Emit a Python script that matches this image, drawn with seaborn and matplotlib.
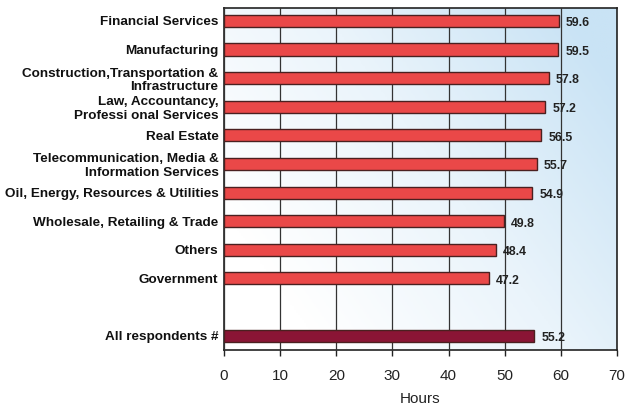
import numpy as np
import pandas as pd
import matplotlib
matplotlib.use("Agg")
import matplotlib.pyplot as plt
from matplotlib.colors import LinearSegmentedColormap
import seaborn as sns

categories = [
    "Financial Services",
    "Manufacturing",
    "Construction,Transportation &\nInfrastructure",
    "Law, Accountancy,\nProfessi onal Services",
    "Real Estate",
    "Telecommunication, Media &\nInformation Services",
    "Oil, Energy, Resources & Utilities",
    "Wholesale, Retailing & Trade",
    "Others",
    "Government",
    "All respondents #",
]
hours = [59.6, 59.5, 57.8, 57.2, 56.5, 55.7, 54.9, 49.8, 48.4, 47.2, 55.2]
is_total = [False] * 10 + [True]

df = pd.DataFrame({"sector": categories, "hours": hours, "total": is_total})
order = categories[:10] + [" "] + categories[10:]

sns.set_theme(style="white")
plt.rcParams["font.family"] = ["Liberation Sans", "DejaVu Sans"]

fig = plt.figure(figsize=(6.26, 4.05), dpi=100)
ax = fig.add_axes([224 / 626, 1 - 350 / 405, (617 - 224) / 626, (350 - 8) / 405])

# background gradient: white at lower left, light blue at upper right
gx, gy = np.meshgrid(np.linspace(0, 1, 200), np.linspace(0, 1, 200))
grad = np.clip(0.8 * gx + 0.5 * (1 - gy) - 0.2, 0, 1)
cmap = LinearSegmentedColormap.from_list("bg", ["#ffffff", "#eaf4fb", "#c9e3f5"])
ax.imshow(grad, cmap=cmap, extent=[0, 70, 11.5, -0.45], aspect="auto",
          zorder=0, vmin=0, vmax=1)

palette = {False: "#ea4848", True: "#8a1535"}
sns.barplot(data=df, y="sector", x="hours", hue="total", order=order,
            palette=palette, dodge=False, width=0.42, legend=False,
            saturation=1, edgecolor="#4a2020", linewidth=1.0, ax=ax, zorder=3)

for c, v in zip(categories, hours):
    pos = order.index(c)
    ax.text(v + 1.3, pos + 0.08, f"{v:.1f}", va="center", ha="left",
            fontsize=8.8, fontweight="bold", color="#222222", zorder=4)

ax.set_xlim(0, 70)
ax.set_ylim(11.5, -0.45)
ax.set_xticks(range(0, 71, 10))
ax.xaxis.grid(True, color="#333333", linewidth=0.9)
ax.set_axisbelow(False)
for gl in ax.get_xgridlines():
    gl.set_zorder(1)
ax.tick_params(axis="x", bottom=True, length=4, width=1, color="#222222",
               labelsize=11, pad=10, labelcolor="#222222")
ax.tick_params(axis="y", left=False, length=0, labelsize=9.7, pad=4,
               labelcolor="#111111")
for lbl in ax.get_yticklabels():
    lbl.set_fontweight("bold")
    lbl.set_linespacing(1.2)
ax.set_ylabel("")
ax.set_xlabel("Hours", fontsize=11, color="#222222", labelpad=6)
for s in ax.spines.values():
    s.set_color("#222222")
    s.set_linewidth(1.2)

fig.savefig("out.png", dpi=100)
